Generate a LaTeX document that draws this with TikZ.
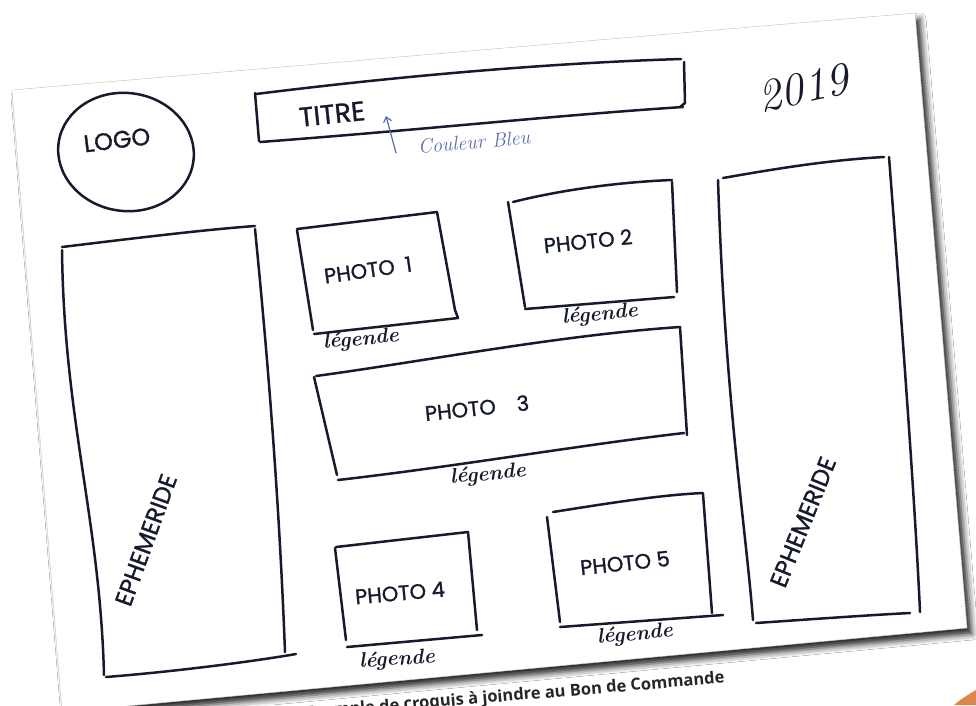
\documentclass[tikz,border=0pt]{standalone}
\usepackage{fontspec}
\newfontfamily\hand{Poppins}[FakeBold=1.2]
\newfontfamily\capfont{Open Sans}
\usetikzlibrary{shadows.blur,arrows.meta}
\definecolor{ink}{HTML}{161A2C}
\definecolor{blueink}{HTML}{5A6DB0}
\definecolor{orng}{HTML}{D9884A}
\begin{document}
\begin{tikzpicture}[x=1pt,y=-1pt,
  pen/.style={draw=ink, line width=2.5pt, line cap=round, line join=round},
  bluepen/.style={draw=blueink, line width=1.2pt, line cap=round},
  hw/.style={text=ink, font=\hand\fontsize{21}{21}\selectfont, inner sep=0pt},
  leg/.style={text=ink, font=\bfseries\itshape\fontsize{21}{21}\selectfont, inner sep=0pt},
]
\useasboundingbox (0,0) rectangle (976,705);
\clip (0,0) rectangle (976,705);
\fill[white] (0,0) rectangle (976,705);

% caption below the sheet
\node[anchor=base east, rotate=4.8, inner sep=0pt, text=black!85,
      font=\capfont\bfseries\fontsize{16.5}{16.5}\selectfont] (cap) at (725,683)
      {Exemple de croquis à joindre au Bon de Commande};

% orange corner
\fill[orng] (954,705) .. controls (961,699) and (969,694) .. (976,690) -- (976,705) -- cycle;

% sheet of paper
\path[fill=white, draw=black!20, line width=0.5pt,
      blur shadow={shadow xshift=5pt, shadow yshift=-6pt, shadow blur radius=6pt, shadow opacity=85}]
  (12,90) -- (915,13) -- (967,628) -- (62,712) -- cycle;

% logo
\draw[pen] (126,152) ellipse [x radius=68, y radius=59, rotate=-8];
\node[hw, font=\hand\fontsize{24}{24}\selectfont, rotate=7] (logo) at (117,140) {LOGO};

% title box
\draw[pen] (256,94) .. controls (400,76) and (550,63) .. (681,59);
\draw[pen] (255,93) -- (259,141);
\draw[pen] (684,62) -- (685,103) -- (680,107);
\draw[pen] (260,142) .. controls (420,130) and (560,115) .. (683,107);
\node[hw, font=\hand\fontsize{27}{27}\selectfont, rotate=6] (titre) at (332,114) {TITRE};

% blue note
\coordinate (atail) at (396,153);
\coordinate (atip) at (386,116);
\draw[bluepen, -{Straight Barb[length=5pt,width=8pt]}] (atail) -- (atip);
\node[text=blueink, inner sep=0pt, font=\itshape\fontsize{20}{20}\selectfont, rotate=5] (couleur) at (474,142) {Couleur Bleu};

% year
\node[text=ink, inner sep=0pt, font=\itshape\fontsize{46}{46}\selectfont, rotate=12] (year) at (803,88) {2019};

% left ephemeride
\draw[pen] (62,247) .. controls (120,240) and (200,230) .. (255,226);
\draw[pen] (62,250) .. controls (64,420) and (100,520) .. (104,675);
\draw[pen] (255,229) .. controls (270,380) and (280,520) .. (285,652);
\draw[pen] (106,677) .. controls (170,672) and (250,662) .. (296,654);
\node[hw, font=\hand\fontsize{24}{24}\selectfont, rotate=70] (ephL) at (146,540) {EPHEMERIDE};

% right ephemeride
\draw[pen] (723,178) .. controls (780,168) and (830,160) .. (884,157);
\draw[pen] (718,180) .. controls (725,400) and (745,520) .. (753,620);
\draw[pen] (889,157) .. controls (900,300) and (915,500) .. (920,612);
\draw[pen] (756,623) .. controls (800,620) and (870,615) .. (910,613);
\node[hw, font=\hand\fontsize{24}{24}\selectfont, rotate=68] (ephR) at (803,522) {EPHEMERIDE};

% photo 1
\draw[pen] (297,229) -- (437,212);
\draw[pen] (297,230) -- (313,330);
\draw[pen] (437,212) -- (455,310) -- (458,318);
\draw[pen] (314,334) -- (458,318);
\node[hw, rotate=8] (p1) at (368,270) {PHOTO\enspace 1};
\node[leg, rotate=5] (l1) at (361,340) {légende};

% photo 2
\draw[pen] (508,202) -- (525,307);
\draw[pen] (513,202) .. controls (560,190) and (620,182) .. (672,180);
\draw[pen] (672,182) -- (677,292);
\draw[pen] (525,309) -- (674,297);
\node[hw, rotate=6] (p2) at (588,241) {PHOTO 2};
\node[leg, rotate=5] (l2) at (600,315) {légende};

% photo 3
\draw[pen] (314,377) -- (337,475);
\draw[pen] (316,376) .. controls (420,362) and (560,335) .. (680,327);
\draw[pen] (680,327) -- (687,435);
\draw[pen] (338,480) .. controls (460,466) and (580,445) .. (684,433);
\node[hw, rotate=6] (p3) at (477,408) {PHOTO\quad 3};
\node[leg, rotate=5] (l3) at (488,475) {légende};

% photo 4
\draw[pen] (335,548) -- (346,640);
\draw[pen] (336,547) -- (468,532);
\draw[pen] (468,532) -- (477,630);
\draw[pen] (347,647) -- (482,635);
\node[hw, rotate=5] (p4) at (400,593) {PHOTO 4};
\node[leg, rotate=4] (l4) at (397,660) {légende};

% photo 5
\draw[pen] (547,517) -- (560,622);
\draw[pen] (553,512) .. controls (610,503) and (660,495) .. (703,493);
\draw[pen] (703,494) -- (712,613);
\draw[pen] (560,627) -- (723,615);
\node[hw, rotate=6] (p5) at (625,563) {PHOTO 5};
\node[leg, rotate=5] (l5) at (635,635) {légende};
\end{tikzpicture}
\end{document}
